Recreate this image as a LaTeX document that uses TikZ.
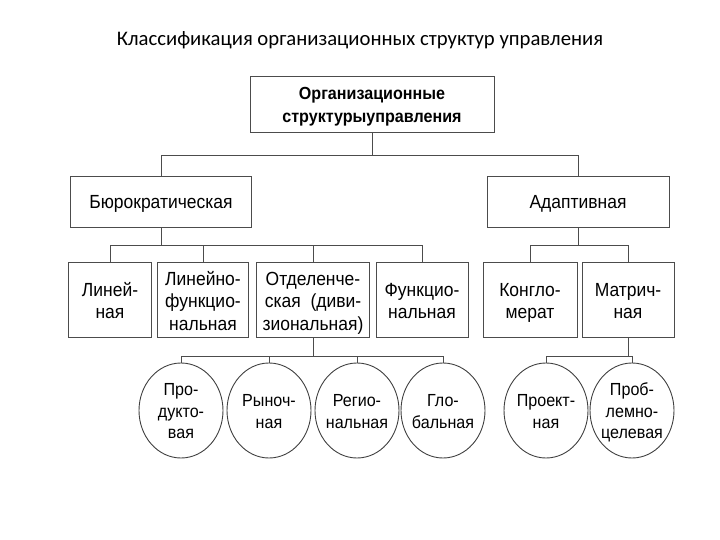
\documentclass[tikz,border=0pt]{standalone}
\usepackage{fontspec}
\setmainfont{Liberation Sans}[FakeStretch=0.92]
\newfontfamily\titlefont{Carlito}
\usetikzlibrary{shapes.geometric}
\newcommand\myup{\rule{0pt}{17.5pt}}
\newcommand\myupm{\rule{0pt}{20.5pt}}
\newcommand\myupt{\rule{0pt}{17.5pt}}
\newcommand\mydns{\rule[-4.5pt]{0pt}{4.5pt}}
\newcommand\myupo{\rule{0pt}{17.5pt}}
\newcommand\mydno{\rule[-4pt]{0pt}{4pt}}
\begin{document}
\begin{tikzpicture}[x=1pt,y=1pt,
  line/.style={draw=black!70,line width=0.9pt},
  box/.style={draw=black!70,line width=0.9pt,rectangle,inner sep=0pt,align=center,
    font=\fontsize{19}{22.5}\selectfont},
  oval/.style={draw=black!75,line width=0.9pt,ellipse,inner sep=-6pt,minimum width=84pt,minimum height=95pt,align=center,
    font=\fontsize{17.5}{21.5}\selectfont}]
\useasboundingbox (0,0) rectangle (720,-540);
\node[font=\titlefont\fontsize{20.7}{24}\selectfont] (title) at (360,-40) {Классификация организационных структур управления};
% level 0
\node[box,minimum width=244pt,minimum height=56pt,font=\bfseries\fontsize{17.5}{23}\selectfont] (top) at (372,-104.5) {\myupt Организационные\\структурыуправления\mydns};
% level 1
\node[box,minimum width=181pt,minimum height=51pt] (bur) at (161,-201.5) {\myup Бюрократическая\mydns};
\node[box,minimum width=182pt,minimum height=51pt] (adp) at (578,-201.5) {\myup Адаптивная\mydns};
% level 2
\node[box,minimum width=83pt,minimum height=75pt] (lin) at (110,-299.5) {\myupm Линей-\\ная\mydns};
\node[box,minimum width=91pt,minimum height=75pt] (linf) at (203,-299.5) {\myupm Линейно-\\функцио-\\нальная\mydns};
\node[box,minimum width=113pt,minimum height=75pt] (otd) at (313,-299.5) {\myupm Отделенче-\\ская\ \ (диви-\\зиональная)\mydns};
\node[box,minimum width=92pt,minimum height=75pt] (fun) at (422,-299.5) {\myupm Функцио-\\нальная\mydns};
\node[box,minimum width=94pt,minimum height=75pt] (kon) at (530,-299.5) {\myupm Конгло-\\мерат\mydns};
\node[box,minimum width=92pt,minimum height=75pt] (mat) at (628,-299.5) {\myupm Матрич-\\ная\mydns};
% level 3
\node[oval] (prd) at (181,-410.5) {\myupo Про-\\дукто-\\вая\mydno};
\node[oval] (ryn) at (269,-410.5) {\myupo Рыноч-\\ная\mydno};
\node[oval] (reg) at (357,-410.5) {\myupo Регио-\\нальная\mydno};
\node[oval] (glo) at (443,-410.5) {\myupo Гло-\\бальная\mydno};
\node[oval] (prk) at (546,-410.5) {\myupo Проект-\\ная\mydno};
\node[oval] (prb) at (632,-410.5) {\myupo Проб-\\лемно-\\целевая\mydno};
% bus coordinates
\coordinate (b1) at (0,-155);
\coordinate (b2) at (0,-245);
\coordinate (b3) at (0,-356);
% connectors
\draw[line] (top.south) -- (top.south|-b1);
\draw[line] (bur.north) -- (bur.north|-b1) -- (adp.north|-b1) -- (adp.north);
\draw[line] (bur.south) -- (bur.south|-b2);
\draw[line] (lin.north) -- (lin.north|-b2) -- (fun.north|-b2) -- (fun.north);
\draw[line] (linf.north) -- (linf.north|-b2);
\draw[line] (otd.north) -- (otd.north|-b2);
\draw[line] (adp.south) -- (adp.south|-b2);
\draw[line] (kon.north) -- (kon.north|-b2) -- (mat.north|-b2) -- (mat.north);
\draw[line] (otd.south) -- (otd.south|-b3);
\draw[line] (prd.north) -- (prd.north|-b3) -- (glo.north|-b3) -- (glo.north);
\draw[line] (ryn.north) -- (ryn.north|-b3);
\draw[line] (reg.north) -- (reg.north|-b3);
\draw[line] (mat.south) -- (mat.south|-b3);
\draw[line] (prk.north) -- (prk.north|-b3) -- (prb.north|-b3) -- (prb.north);
\end{tikzpicture}
\end{document}
